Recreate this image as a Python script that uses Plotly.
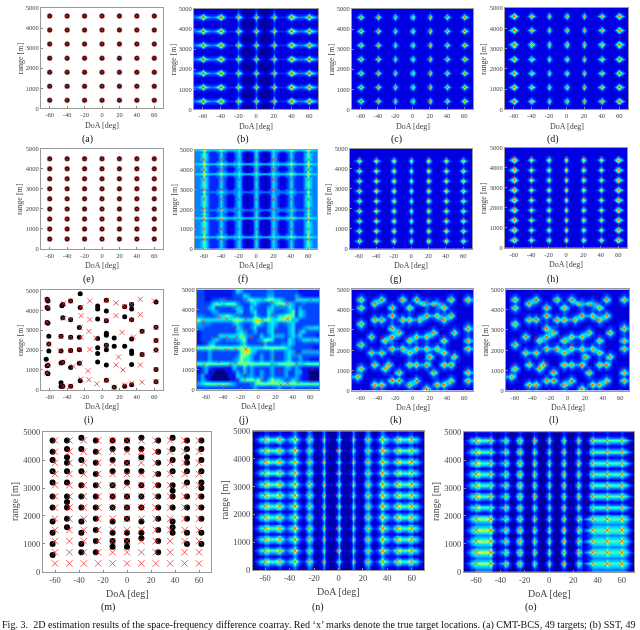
import plotly.graph_objects as go

W, H = 640, 630
SERIF = "Liberation Serif"

doa_ticks = [-60, -40, -20, 0, 20, 40, 60]
doa_labels = ["-60", "-40", "-20", "0", "20", "40", "60"]
range_ticks = [0, 1000, 2000, 3000, 4000, 5000]
range_labels = ["0", "1000", "2000", "3000", "4000", "5000"]

# true targets, first two rows of panels
doa_49 = [-60, -40, -20, 0, 20, 40, 60]
range_row1 = [400, 1100, 1800, 2500, 3200, 3900, 4600]
range_row2 = [500, 1000, 1500, 2000, 2500, 3000, 3500, 4000, 4500]

# true targets of panels m, n, o
doa_m = [-60, -48, -36, -24, -12, 0, 12, 24, 36, 48, 60]
range_m = [300, 700, 1100, 1500, 1900, 2300, 2700, 3100, 3500, 3900, 4300, 4700]

# panel i (also j, k, l): true targets
true_i_doa = [-63, -62, -63, -61, -62, -63, -44, -44, -48, -47, -45, -45, -36, -36, -36, -36, -33, -36,
              -24, -24, -25, -24, -26, -25, -24, -14, -14, -15, -14, -16, -15, -7, -6, 5, 5, 5, 5,
              16, 16, 19, 16, 14, 23, 26, 24, 26, 44, 44, 36, 44, 46, 34, 34, 34, 46, 46, 60, 62, 62, 62, 62, 62]
true_i_range = [4550, 4150, 3400, 2300, 1250, 850, 4340, 3600, 1970, 2680, 1390, 180, 4470, 3550, 2640, 1980, 1190, 180,
                4150, 3730, 3130, 2640, 2030, 1340, 540, 4470, 3530, 2940, 2030, 960, 510, 2600, 300, 4500, 3500, 2240, 480,
                4370, 3730, 1650, 1250, 130, 2890, 4180, 1000, 250, 4550, 3780, 2650, 1250, 380, 4290, 3520, 330, 2940, 1780,
                4470, 3150, 2475, 2000, 1020, 410]

# panel i: estimates
est_i_doa = [-63, -62, -63, -62, -63, -62, -61, -61, -61, -64, -62, -63, -63, -62,
             -46, -45, -45, -47, -47, -45, -47, -47, -47, -45,
             -36, -36, -36, -36, -36, -36, -25, -25, -26, -26, -26, -26, -25,
             -5, -5, -5, -5, -5, -5, -5, 5, 5, 5, 5, 5, 5, 5, 5, 5,
             14, 14, 14, 26, 26, 26, 26, 34, 34, 34, 34, 34, 34, 34, 34,
             46, 46, 62, 62, 62, 62, 62, 62]
est_i_range = [4550, 4470, 4140, 4090, 3380, 3350, 2690, 2300, 1950, 1540, 1230, 1210, 850, 810,
               4230, 4290, 3630, 2690, 1950, 1390, 1350, 350, 170, 180,
               4470, 3520, 2640, 1980, 1120, 180, 4830, 4140, 3130, 2640, 2010, 1340, 460,
               4220, 4060, 3560, 2580, 2110, 1830, 1400, 4500, 3960, 3470, 2840, 2740, 2240, 2010, 1250, 480,
               2610, 2190, 130, 4180, 3680, 2190, 180, 4290, 4060, 3520, 2560, 1950, 1820, 1270, 250,
               2940, 1780, 4420, 3150, 2475, 2000, 1020, 410]

# panel m: estimates per DoA column
est_m_doa = [-62, -50, -38, -26, -12, 0, 12, 26, 38, 50, 62]
est_m_ranges = [
    [4700, 4300, 4000, 3600, 3200, 2700, 2300, 1800, 1400, 1000, 600],
    [4700, 4400, 4100, 3900, 3600, 3200, 2700, 2500, 2300, 1900, 1600],
    [4800, 4400, 4000, 3600, 3100, 2700, 2300, 1800, 1400, 1000, 700],
    [4700, 4300, 3900, 3500, 3100, 2700, 2300, 1900, 1500, 1100, 700],
    [4700, 4400, 4000, 3600, 3100, 2700, 2300, 1800, 1400, 1100, 900],
    [4700, 4400, 3900, 3600, 3200, 2700, 2300, 1900, 1400, 1100, 900],
    [4800, 4400, 4100, 3600, 3100, 2700, 2300, 1800, 1400, 1200],
    [4700, 4300, 3900, 3500, 3100, 2700, 2300, 1900, 1500, 1100, 700],
    [4800, 4400, 4000, 3600, 3100, 2900, 2700, 2300, 1800, 1600, 1400],
    [4700, 4400, 4100, 3900, 3600, 3200, 2700, 2300, 1900, 1400, 1000],
    [4700, 4400, 4000, 3600, 3200, 3000, 2700, 2300, 1900, 1400, 1000],
]

# heat levels read by eye, one digit per cell (0 dark blue .. 8 red)
# rows of 2.5 deg cells, left half up to 0 deg, right half mirrored
b_rows = {"p": "33458543334585322224742111247", "n": "22235322222353211112421101124",
          "m": "11112111111121111111310000013", "g": "11111111111111111111210000012"}
c_rows = {"p": "11248421112474211113731111137", "n": "11124211111242111112421111124",
          "m": "11112111111121111111211111112", "g": "11111111111111111111111111111"}
d_rows = {"p": "11358531112474211113731111137", "n": "11135311111242111112421111124",
          "m": "11112111111121111111211111112", "g": "11111111111111111111111111111"}
f_rows = {"C": "33345432222343211123431101134", "E": "33335332223343322233432111234",
          "L": "44457544444565444444544444445", "W": "33346433333454333333433333334"}
# which row each 100 m step uses, from 0 m upward
b_map = "ggmnpnmggmnpnmggmnpnmggmnpnmggmnpnmggmnpnmggmnpnmgg"
c_map = "ggmnpnmggmnpnmggmnpnmggmnpnmggmnpnmggmnpnmggmnpnmgg"
row2_map = "ggmnpnmmnpnmmnpnmmnpnmmnpnmmnpnmmnpnmmnpnmmnpnmgggg"
f_map = "ECCCCELECCCCCCCELECEWECCCCCCEWECCCCCCELECCELECCCCEL"

# rows of 2 deg cells, panel n mirrored
n_rows = {"p": "123456655566533457532246421126211136", "n": "012334433344322335321134310114100014",
          "g": "000112211112111123210023200013100013"}
n_map = "ggnpngnpngnpngnpngnpngnpngnpngnpngnpngnpngnpngnpngg"
o_rows = {
    "p": "123456655556422346421246411136310136" + "31013631113631124655555655555654321",
    "n": "012334433334211224310134300024200024" + "20002420002420013433333433333432100",
    "g": "001112111112100112100012100012100012" + "10001210001210001211111211111211000",
    "P": "123456666667422346421246411136310137" + "31013731113642345755555755555754321",
    "N": "012344444445211224310134300024200024" + "20002420002431123444444544444543200",
    "G": "001223333333100112100012100012100012" + "10001210001221122333333333333332100",
}
o_map = "GGNPNGNPNGNPNGNPNGNPNgnpngnpngnpngnpngnpngnpngnpngg"

# panel j and k, 4 deg x 200 m cells, top row first
j_grid = [
    "22111111112542222222332222222111111",
    "22111111112225422222442222224211111",
    "22112233222223565555665542225555555",
    "22225665666422245322245665542232222",
    "22245222223542253222453333542422222",
    "22224422222452245222542223462542222",
    "33222355654422225322543556662542222",
    "65555555556665557766655666645222222",
    "43332222224532235642454223452222222",
    "33222222222542235222453222452234555",
    "12222222222454224222452222452452222",
    "12222255555565332252354442453522221",
    "12224532333456222346652222542355555",
    "11245222222245222224222233542222222",
    "66666666666666655556666665422222211",
    "22242222222266754222242224542244444",
    "22242222222366542242242224533422222",
    "22242222223465542242242224522422111",
    "66666666655666666666655666665556666",
    "12421111115225242222242224424211111",
    "12411000112425242242242224224411000",
    "24110000011542342242242224224211000",
    "24210000011256665642465542354211000",
    "45666666654222235666666666666666666",
    "22222222222222224222222422232222222",
]
k_grid = [
    "11111111111111111111111111111111111",
    "12421112421112421242111111124211242",
    "15851245851115851585242242158511585",
    "12421585422422424245855855424211242",
    "15851242115851158511242245851111111",
    "12421111112421124211242242424211111",
    "11111242425852424224585585458511111",
    "12421586852425868558542245854211111",
    "15851242422422424224211112421111242",
    "12421111115854211111112421112421585",
    "11112421112458511242245851115851242",
    "11115851245854224585585422422421242",
    "12422421585421158542242115851111585",
    "15851111242422424242242242421111242",
    "12422422425855854585585585421111585",
    "11115855852422458542244245852421242",
    "11112422421111124211158512425851111",
    "11111242124211124242244212424421111",
    "12421585258511158685585115868511111",
    "15851242585224224242242422424211242",
    "24421111242158511111115851111111585",
    "58511111112424211242112421124211242",
    "24211242425868524585111242458511585",
    "11111586852424258542242586854211242",
    "11111242421111124211585242421111111",
]
l_grid = k_grid

heat_levels = ["rgb(0,0,160)", "rgb(0,0,225)", "rgb(0,40,255)", "rgb(0,130,255)", "rgb(0,220,255)",
               "rgb(70,255,180)", "rgb(220,255,40)", "rgb(255,150,0)", "rgb(250,30,0)", "rgb(128,0,0)"]
# panel j has thin lines on a coarse grid, panels k and l isolated spots
j_levels = ["rgb(0,0,130)", "rgb(0,20,235)", "rgb(0,70,255)", "rgb(0,130,255)", "rgb(0,170,255)",
            "rgb(0,240,240)", "rgb(150,255,100)", "rgb(255,200,0)", "rgb(250,40,0)", "rgb(128,0,0)"]
k_levels = ["rgb(0,0,130)", "rgb(0,0,220)", "rgb(0,25,245)", "rgb(0,60,255)", "rgb(0,100,255)",
            "rgb(0,210,255)", "rgb(0,240,230)", "rgb(255,200,0)", "rgb(250,40,0)", "rgb(128,0,0)"]

small_tick = 6.5
big_tick = 8.5


def mirror(half):
    return half + half[-2::-1]


def digits(rows):
    return [[int(c) for c in row] for row in rows]


def grid_points(xs, ys):
    return [x for x in xs for _ in ys], [y for _ in xs for y in ys]


fig = go.Figure()
annotations = []
x_25 = [-70 + 2.5 * i for i in range(57)]
x_2 = [-70 + 2 * i for i in range(71)]
x_4 = [-70] + [-68 + 4 * i for i in range(35)] + [70]
y_100 = [100 * i for i in range(51)]
y_200 = [0] + [100 + 200 * i for i in range(25)] + [5000]


def coarse(rows):
    # ascending range, edge cells held out to the axes
    body = [r[0] + r + r[-1] for r in reversed(rows)]
    return [body[0]] + body + [body[-1]]


def text(x, y, s, size, color="#444", angle=0):
    annotations.append(dict(x=x / W, y=1 - y / H, xref="paper", yref="paper", text=s, showarrow=False,
                            xanchor="center", yanchor="middle", textangle=angle,
                            font=dict(family=SERIF, size=size, color=color)))


def add_panel(n, box, caption, big=False):
    x0, x1, y0, y1 = box
    suffix = "" if n == 1 else str(n)
    fig.layout["xaxis" + suffix] = dict(
        domain=[x0 / W, x1 / W], range=[-70, 70], anchor="y" + suffix, tickvals=doa_ticks, ticktext=doa_labels,
        ticks="inside", ticklen=2, tickcolor="#888", showgrid=False, zeroline=False, showline=True, mirror=True,
        linecolor="#999", linewidth=1, tickfont=dict(family=SERIF, size=big_tick if big else small_tick, color="#444"))
    fig.layout["yaxis" + suffix] = dict(
        domain=[1 - y1 / H, 1 - y0 / H], range=[0, 5000], anchor="x" + suffix, tickvals=range_ticks,
        ticktext=range_labels, ticks="inside", ticklen=2, tickcolor="#888", showgrid=False, zeroline=False,
        showline=True, mirror=True, linecolor="#999", linewidth=1,
        tickfont=dict(family=SERIF, size=big_tick if big else small_tick, color="#444"))
    mid_x, mid_y = (x0 + x1) / 2, (y0 + y1) / 2
    text(mid_x, y1 + (22 if big else 17), "DoA [deg]", 10 if big else 8)
    text(x0 - (28 if big else 21), mid_y, "range [m]", 10 if big else 8, angle=-90)
    text(caption[0], caption[1], "(%s)" % chr(96 + n), 10, "#111")
    return "x" + suffix, "y" + suffix


def add_heat(n, box, caption, x, y, rows, tx, ty, big=False, size=3.5, levels=heat_levels):
    xa, ya = add_panel(n, box, caption, big)
    scale = [[i / 9, c] for i, c in enumerate(levels)]
    fig.add_trace(go.Heatmap(x=x, y=y, z=digits(rows), colorscale=scale, zmin=0, zmax=9, zsmooth="best",
                             showscale=False, xaxis=xa, yaxis=ya, hoverinfo="skip"))
    fig.add_trace(go.Scatter(x=tx, y=ty, mode="markers", xaxis=xa, yaxis=ya, showlegend=False,
                             marker=dict(symbol="x-thin", size=size, line=dict(width=0.6, color="rgba(230,20,20,0.8)"))))


def add_dots(n, box, caption, ex, ey, tx, ty, big=False, dot=5, cross=5, halo=0):
    xa, ya = add_panel(n, box, caption, big)
    fig.add_trace(go.Scatter(x=ex, y=ey, mode="markers", xaxis=xa, yaxis=ya, showlegend=False,
                             marker=dict(color="black", size=dot, line=dict(width=halo, color="rgba(240,110,110,0.45)"))))
    fig.add_trace(go.Scatter(x=tx, y=ty, mode="markers", xaxis=xa, yaxis=ya, showlegend=False,
                             marker=dict(symbol="x-thin", size=cross, line=dict(width=0.9, color="rgba(240,40,40,0.85)"))))


tx1, ty1 = grid_points(doa_49, range_row1)
tx2, ty2 = grid_points(doa_49, range_row2)
txm, tym = grid_points(doa_m, range_m)
exm = [d for d, rs in zip(est_m_doa, est_m_ranges) for _ in rs]
eym = [r for rs in est_m_ranges for r in rs]

add_dots(1, (41, 163, 3, 105), (87, 136), tx1, ty1, tx1, ty1, dot=5, cross=3, halo=1.2)
add_heat(2, (194, 318, 4, 106), (243, 136), x_25, y_100, [mirror(b_rows[c]) for c in b_map], tx1, ty1)
add_heat(3, (352, 473, 4, 106), (396, 136), x_25, y_100, [mirror(c_rows[c]) for c in c_map], tx1, ty1)
add_heat(4, (505, 628, 3, 106), (553, 136), x_25, y_100, [mirror(d_rows[c]) for c in c_map], tx1, ty1)

add_dots(5, (41, 163, 146, 248), (88, 278), tx2, ty2, tx2, ty2, dot=5, cross=3, halo=1.2)
add_heat(6, (195, 317, 147, 248), (243, 278), x_25, y_100, [mirror(f_rows[c]) for c in f_map], tx2, ty2)
add_heat(7, (350, 472, 146, 248), (396, 278), x_25, y_100, [mirror(c_rows[c]) for c in row2_map], tx2, ty2)
add_heat(8, (505, 627, 145, 247), (553, 278), x_25, y_100, [mirror(d_rows[c]) for c in row2_map], tx2, ty2)

add_dots(9, (41, 163, 290, 391), (88, 422), est_i_doa, est_i_range, true_i_doa, true_i_range, dot=5, cross=5)
add_heat(10, (197, 319, 289, 391), (243, 422), x_4, y_200, coarse(j_grid), true_i_doa, true_i_range, levels=j_levels)
add_heat(11, (352, 473, 289, 392), (396, 422), x_4, y_200, coarse(k_grid), true_i_doa, true_i_range, levels=k_levels)
add_heat(12, (506, 629, 289, 392), (553, 422), x_4, y_200, coarse(l_grid), true_i_doa, true_i_range, levels=k_levels)

add_dots(13, (43, 211, 434, 576), (108, 612), exm, eym, txm, tym, big=True, dot=6, cross=6.5)
add_heat(14, (253, 424, 433, 574), (318, 612), x_2, y_100, [mirror(n_rows[c]) for c in n_map], txm, tym, big=True, size=5)
add_heat(15, (464, 634, 434, 576), (531, 612), x_2, y_100, [o_rows[c] for c in o_map], txm, tym, big=True, size=5)

annotations.append(dict(
    x=0, y=1 - 630 / H, xref="paper", yref="paper", xanchor="left", yanchor="middle", showarrow=False,
    text="Fig. 3.  2D estimation results of the space-frequency difference coarray. Red ‘x’ marks denote the true "
         "target locations. (a) CMT-BCS, 49 targets; (b) SST, 49",
    font=dict(family=SERIF, size=10.1, color="#111")))

fig.update_layout(width=W, height=H, autosize=False, margin=dict(l=0, r=0, t=0, b=0), showlegend=False,
                  paper_bgcolor="white", plot_bgcolor="white", annotations=annotations)

fig.write_html("out.html", config={"displayModeBar": False},
               post_script="document.body.style.margin='0';"
                           "document.querySelector('.js-plotly-plot').style.filter='blur(0.45px)';")
